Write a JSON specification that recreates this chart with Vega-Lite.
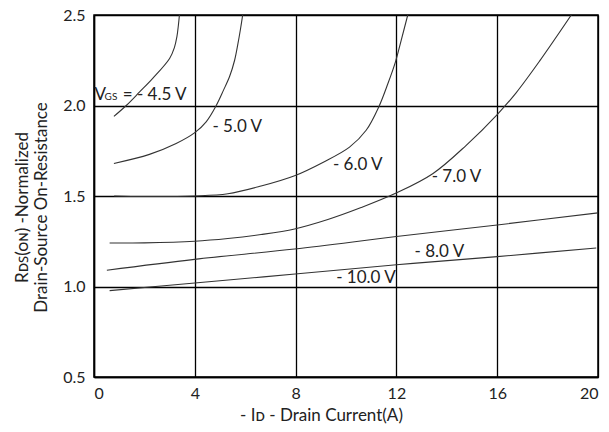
{
  "$schema": "https://vega.github.io/schema/vega-lite/v6.json",
  "width": 504,
  "height": 362,
  "autosize": {"type": "none"},
  "padding": {"left": 94, "top": 15, "right": 11, "bottom": 55},
  "background": "white",
  "config": {
    "view": {"stroke": "#000", "strokeWidth": 1.5},
    "font": "Lato",
    "axis": {
      "labelFont": "Lato", "titleFont": "Lato", "labelColor": "#222", "titleColor": "#222",
      "titleFontWeight": "normal", "labelFontSize": 16, "titleFontSize": 17,
      "grid": true, "gridColor": "#000", "gridWidth": 1.3, "gridOpacity": 1,
      "ticks": false, "domainColor": "#000", "domainWidth": 1.5
    }
  },
  "datasets": {
    "curves": [
      {"vgs": "-4.5", "id": 0.79, "r": 1.94},
      {"vgs": "-4.5", "id": 1.28, "r": 2.0},
      {"vgs": "-4.5", "id": 1.81, "r": 2.075},
      {"vgs": "-4.5", "id": 2.33, "r": 2.15},
      {"vgs": "-4.5", "id": 3.0, "r": 2.26},
      {"vgs": "-4.5", "id": 3.19, "r": 2.32},
      {"vgs": "-4.5", "id": 3.29, "r": 2.38},
      {"vgs": "-4.5", "id": 3.35, "r": 2.445},
      {"vgs": "-4.5", "id": 3.39, "r": 2.5},
      {"vgs": "-5.0", "id": 0.79, "r": 1.68},
      {"vgs": "-5.0", "id": 2.2, "r": 1.73},
      {"vgs": "-5.0", "id": 3.26, "r": 1.79},
      {"vgs": "-5.0", "id": 4.0, "r": 1.85},
      {"vgs": "-5.0", "id": 4.45, "r": 1.91},
      {"vgs": "-5.0", "id": 4.85, "r": 2.0},
      {"vgs": "-5.0", "id": 5.14, "r": 2.085},
      {"vgs": "-5.0", "id": 5.38, "r": 2.16},
      {"vgs": "-5.0", "id": 5.58, "r": 2.25},
      {"vgs": "-5.0", "id": 5.71, "r": 2.34},
      {"vgs": "-5.0", "id": 5.81, "r": 2.42},
      {"vgs": "-5.0", "id": 5.9, "r": 2.5},
      {"vgs": "-6.0", "id": 0.8, "r": 1.5},
      {"vgs": "-6.0", "id": 2.0, "r": 1.497},
      {"vgs": "-6.0", "id": 4.0, "r": 1.5},
      {"vgs": "-6.0", "id": 5.31, "r": 1.512},
      {"vgs": "-6.0", "id": 6.63, "r": 1.555},
      {"vgs": "-6.0", "id": 7.96, "r": 1.612},
      {"vgs": "-6.0", "id": 9.1, "r": 1.687},
      {"vgs": "-6.0", "id": 10.14, "r": 1.77},
      {"vgs": "-6.0", "id": 10.8, "r": 1.863},
      {"vgs": "-6.0", "id": 11.3, "r": 1.992},
      {"vgs": "-6.0", "id": 11.66, "r": 2.12},
      {"vgs": "-6.0", "id": 11.96, "r": 2.24},
      {"vgs": "-6.0", "id": 12.19, "r": 2.36},
      {"vgs": "-6.0", "id": 12.45, "r": 2.5},
      {"vgs": "-7.0", "id": 0.62, "r": 1.24},
      {"vgs": "-7.0", "id": 2.0, "r": 1.241},
      {"vgs": "-7.0", "id": 3.99, "r": 1.25},
      {"vgs": "-7.0", "id": 5.31, "r": 1.265},
      {"vgs": "-7.0", "id": 6.63, "r": 1.287},
      {"vgs": "-7.0", "id": 7.96, "r": 1.318},
      {"vgs": "-7.0", "id": 9.28, "r": 1.37},
      {"vgs": "-7.0", "id": 10.6, "r": 1.436},
      {"vgs": "-7.0", "id": 11.99, "r": 1.516},
      {"vgs": "-7.0", "id": 13.44, "r": 1.623},
      {"vgs": "-7.0", "id": 14.77, "r": 1.78},
      {"vgs": "-7.0", "id": 16.0, "r": 1.95},
      {"vgs": "-7.0", "id": 16.75, "r": 2.07},
      {"vgs": "-7.0", "id": 17.68, "r": 2.245},
      {"vgs": "-7.0", "id": 18.94, "r": 2.5},
      {"vgs": "-8.0", "id": 0.51, "r": 1.09},
      {"vgs": "-8.0", "id": 3.99, "r": 1.15},
      {"vgs": "-8.0", "id": 7.96, "r": 1.207},
      {"vgs": "-8.0", "id": 12.0, "r": 1.276},
      {"vgs": "-8.0", "id": 16.0, "r": 1.34},
      {"vgs": "-8.0", "id": 20.0, "r": 1.407},
      {"vgs": "-10.0", "id": 0.62, "r": 0.977},
      {"vgs": "-10.0", "id": 4.0, "r": 1.019},
      {"vgs": "-10.0", "id": 7.98, "r": 1.069},
      {"vgs": "-10.0", "id": 12.0, "r": 1.12},
      {"vgs": "-10.0", "id": 16.0, "r": 1.165},
      {"vgs": "-10.0", "id": 19.93, "r": 1.213}
    ],
    "labels": [
      {"text": "V", "id": 0.02, "r": 2.033},
      {"text": "= - 4.5 V", "id": 1.14, "r": 2.033},
      {"text": "- 5.0 V", "id": 4.7, "r": 1.853},
      {"text": "- 6.0 V", "id": 9.48, "r": 1.641},
      {"text": "- 7.0 V", "id": 13.4, "r": 1.577},
      {"text": "- 8.0 V", "id": 12.72, "r": 1.161},
      {"text": "- 10.0 V", "id": 9.61, "r": 1.017}
    ],
    "sublabels": [
      {"text": "GS", "id": 0.42, "r": 2.033}
    ]
  },
  "layer": [
    {
      "data": {"name": "curves"},
      "mark": {"type": "line", "interpolate": "catmull-rom", "color": "#333", "strokeWidth": 1.1, "clip": true},
      "encoding": {
        "x": {
          "field": "id", "type": "quantitative",
          "scale": {"domain": [0, 20], "nice": false},
          "axis": {"values": [0, 4, 8, 12, 16, 20], "labelPadding": 8, "title": "- Iᴅ - Drain Current(A)", "titlePadding": 6, "titleX": 227}
        },
        "y": {
          "field": "r", "type": "quantitative",
          "scale": {"domain": [0.5, 2.5], "nice": false},
          "axis": {"values": [0.5, 1.0, 1.5, 2.0, 2.5], "format": ".1f", "labelPadding": 9, "title": ["Rᴅꜱ(ᴏɴ) -Normalized", "Drain-Source On-Resistance"], "titlePadding": 12, "titleY": 192}
        },
        "detail": {"field": "vgs", "type": "nominal"}
      }
    },
    {
      "data": {"name": "labels"},
      "mark": {"type": "text", "align": "left", "baseline": "alphabetic", "font": "Lato", "fontSize": 17, "color": "#222"},
      "encoding": {
        "x": {"field": "id", "type": "quantitative"},
        "y": {"field": "r", "type": "quantitative"},
        "text": {"field": "text"}
      }
    },
    {
      "data": {"name": "sublabels"},
      "mark": {"type": "text", "align": "left", "baseline": "alphabetic", "font": "Lato", "fontSize": 10, "color": "#222"},
      "encoding": {
        "x": {"field": "id", "type": "quantitative"},
        "y": {"field": "r", "type": "quantitative"},
        "text": {"field": "text"}
      }
    }
  ]
}
